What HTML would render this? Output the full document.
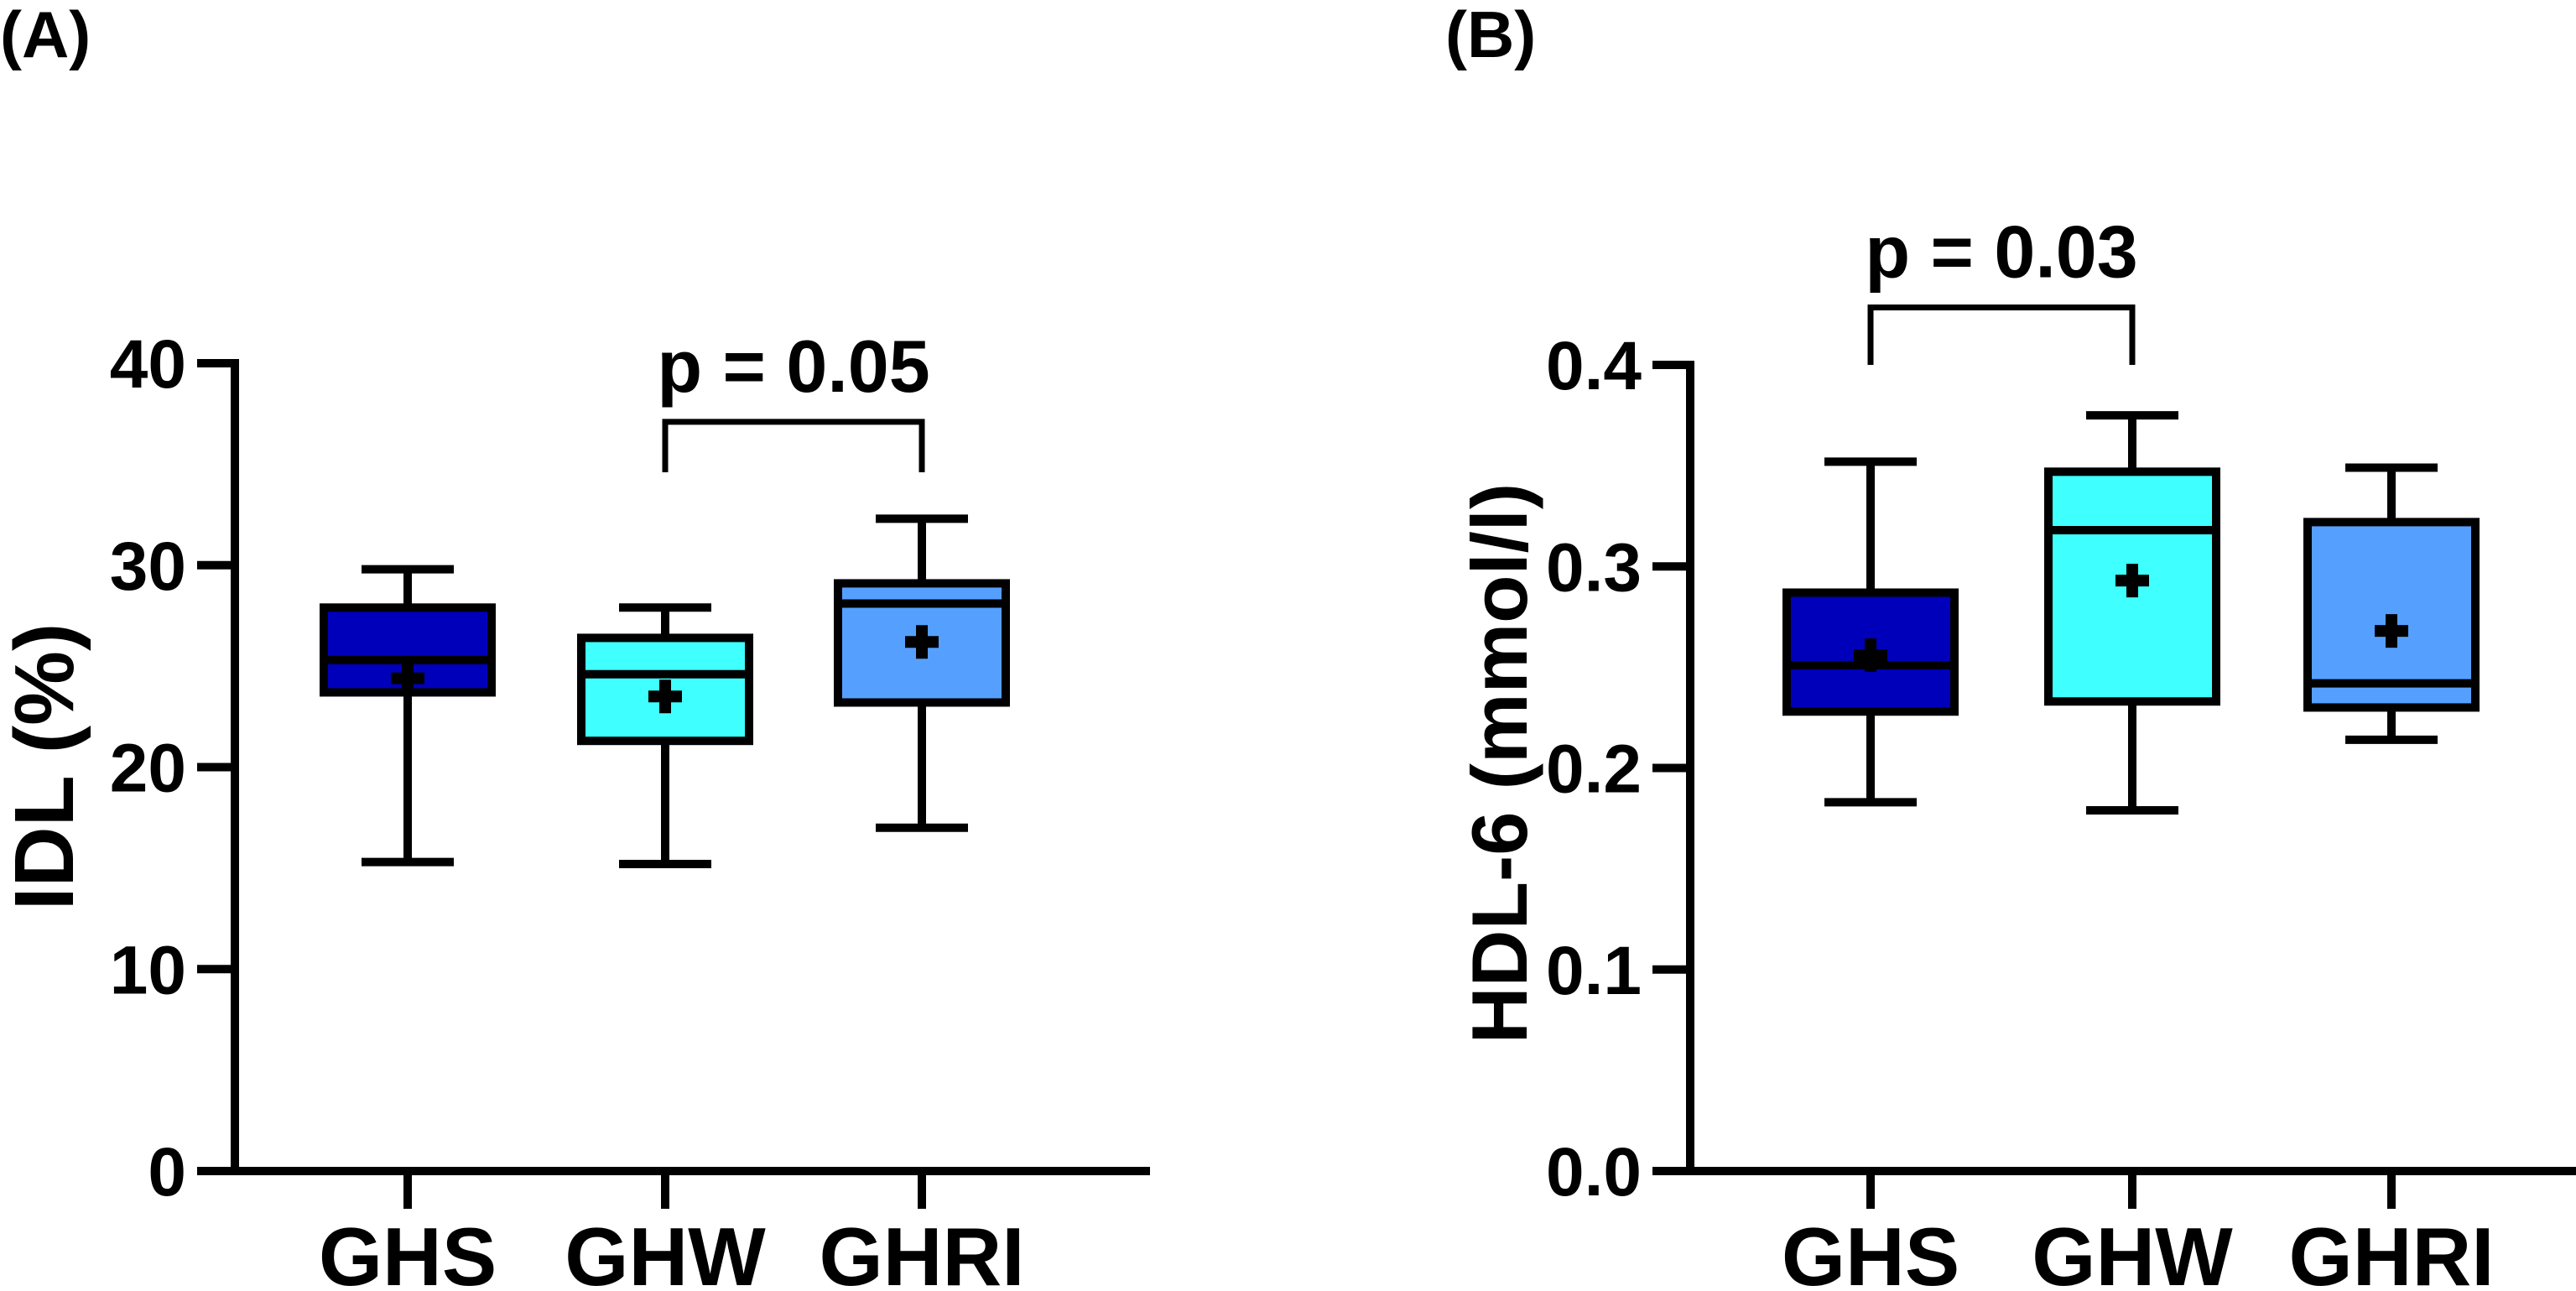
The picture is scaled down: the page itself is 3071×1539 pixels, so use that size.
<!DOCTYPE html>
<html><head><meta charset="utf-8"><style>
html,body{margin:0;padding:0;background:#fff;}
svg{display:block;font-family:"Liberation Sans",Arial,sans-serif;font-weight:bold;}
</style></head><body>
<svg id="fig" width="3071" height="1539" viewBox="0 0 3071 1539"></svg>
<script>
const categories = ["GHS","GHW","GHRI"];
const colors = ["#0000bb","#40ffff","#55a0ff"];
// Panel A: IDL (%)
const aWhiskLo = [15.3, 15.2, 17.0];
const aQ1 = [23.7, 21.3, 23.2];
const aMedian = [25.3, 24.6, 28.1];
const aQ3 = [27.9, 26.4, 29.1];
const aWhiskHi = [29.8, 27.9, 32.3];
const aMean = [24.4, 23.5, 26.2];
const aTicks = [0, 10, 20, 30, 40];
const aTickLabels = ["0","10","20","30","40"];
// Panel B: HDL-6 (mmol/l)
const bWhiskLo = [0.183, 0.179, 0.214];
const bQ1 = [0.228, 0.233, 0.230];
const bMedian = [0.251, 0.318, 0.242];
const bQ3 = [0.287, 0.347, 0.322];
const bWhiskHi = [0.352, 0.375, 0.349];
const bMean = [0.256, 0.293, 0.268];
const bTicks = [0, 0.1, 0.2, 0.3, 0.4];
const bTickLabels = ["0.0","0.1","0.2","0.3","0.4"];

const NS = "http://www.w3.org/2000/svg";
const svg = document.getElementById("fig");
function el(tag, attrs, parent){
  const e = document.createElementNS(NS, tag);
  for (const k in attrs) e.setAttribute(k, attrs[k]);
  (parent||svg).appendChild(e);
  return e;
}
function panel(o){
  const g = el("g", {});
  
  
  const y = v => o.y0 - (v - o.vmin) / (o.vmax - o.vmin) * (o.y0 - o.y1);
  const x = i => o.xs[i];
  const LW = 10;
  const ya = el("line", {x1:o.ax, y1:o.y1-5, x2:o.ax, y2:o.y0+5, stroke:"#000","stroke-width":LW}, g);
  
  
  const xa = el("line", {x1:o.ax-45, y1:o.y0, x2:o.axEnd, y2:o.y0, stroke:"#000","stroke-width":LW}, g);
  
  
  o.ticks.forEach((t, i) => {
    const tk = el("line", {x1:o.ax-45, y1:y(t), x2:o.ax, y2:y(t), stroke:"#000","stroke-width":LW}, g);
    
    
    const tl = el("text", {x:o.ax-58, y:y(t)+29, "text-anchor":"end","font-size":82}, g);
    tl.textContent = o.tickLabels[i];
    
    
  });
  categories.forEach((c, i) => {
    const tk = el("line", {x1:x(i), y1:o.y0, x2:x(i), y2:o.y0+45, stroke:"#000","stroke-width":LW}, g);
    
    
    const tl = el("text", {x:x(i), y:1532, "text-anchor":"middle","font-size":98}, g);
    tl.textContent = c;
    
    
    const bw = 200, hw = 110;
    const wl = el("line", {x1:x(i), y1:y(o.lo[i]), x2:x(i), y2:y(o.q1[i]), stroke:"#000","stroke-width":LW}, g);
    
    
    const wh = el("line", {x1:x(i), y1:y(o.hi[i]), x2:x(i), y2:y(o.q3[i]), stroke:"#000","stroke-width":LW}, g);
    
    
    const cl = el("line", {x1:x(i)-hw/2, y1:y(o.lo[i]), x2:x(i)+hw/2, y2:y(o.lo[i]), stroke:"#000","stroke-width":LW}, g);
    
    
    const ch = el("line", {x1:x(i)-hw/2, y1:y(o.hi[i]), x2:x(i)+hw/2, y2:y(o.hi[i]), stroke:"#000","stroke-width":LW}, g);
    
    
    const bx = el("rect", {x:x(i)-bw/2, y:y(o.q3[i]), width:bw, height:y(o.q1[i])-y(o.q3[i]), fill:colors[i], stroke:"#000","stroke-width":LW}, g);
    
    
    const md = el("line", {x1:x(i)-bw/2, y1:y(o.med[i]), x2:x(i)+bw/2, y2:y(o.med[i]), stroke:"#000","stroke-width":LW}, g);
    
    
    const m = y(o.mean[i]);
    const mp = el("path", {d:`M${x(i)-20},${m}H${x(i)+20}M${x(i)},${m-20}V${m+20}`, stroke:"#000","stroke-width":14}, g);
    
    
  });
  const bx1 = x(o.br[0]), bx2 = x(o.br[1]), by = y(o.brTop), bl = y(o.brLeg);
  const br = el("path", {d:`M${bx1},${bl}V${by}H${bx2}V${bl}`, fill:"none", stroke:"#000","stroke-width":7}, g);
  
  
  const pt = el("text", {x:(bx1+bx2)/2, y:by-36, "text-anchor":"middle","font-size":88}, g);
  pt.textContent = o.pText;
  
  
  const yt = el("text", {x:0, y:0, transform:`translate(${o.titleX},${o.titleY}) rotate(-90)`, "text-anchor":"middle","font-size":o.titleSize}, g);
  yt.textContent = o.title;
  
  
  const pl = el("text", {x:o.plX, y:68, "font-size":78}, g);
  pl.textContent = o.plText;
  
  
}
panel({name:"panel-a", ax:280, axEnd:1371, y0:1396, y1:433, vmin:0, vmax:40, xs:[486,793,1099],
  ticks:aTicks, tickLabels:aTickLabels, lo:aWhiskLo, q1:aQ1, med:aMedian, q3:aQ3, hi:aWhiskHi, mean:aMean,
  br:[1,2], brTop:37.1, brLeg:34.6, pText:"p = 0.05", title:"IDL (%)", titleX:87, titleY:914, titleSize:100,
  plText:"(A)", plX:0});
panel({name:"panel-b", ax:2015, axEnd:3071, y0:1396, y1:435, vmin:0, vmax:0.4, xs:[2230,2542,2851],
  ticks:bTicks, tickLabels:bTickLabels, lo:bWhiskLo, q1:bQ1, med:bMedian, q3:bQ3, hi:bWhiskHi, mean:bMean,
  br:[0,1], brTop:0.4285, brLeg:0.40, pText:"p = 0.03", title:"HDL-6 (mmol/l)", titleX:1820, titleY:910, titleSize:94,
  plText:"(B)", plX:1723});
</script>
</body></html>
